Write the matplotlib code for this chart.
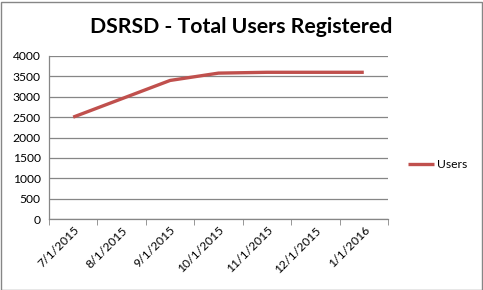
import matplotlib
matplotlib.use("Agg")
import matplotlib.pyplot as plt
from matplotlib.patches import Rectangle

categories = ["7/1/2015", "8/1/2015", "9/1/2015", "10/1/2015", "11/1/2015", "12/1/2015", "1/1/2016"]
users = [2500, 2950, 3400, 3580, 3600, 3600, 3600]
yticks = [0, 500, 1000, 1500, 2000, 2500, 3000, 3500, 4000]

plt.rcParams['font.family'] = ['Lato', 'DejaVu Sans']

fig = plt.figure(figsize=(4.83, 2.90), dpi=100)
ax = fig.add_axes([49/483, 71/290, (388-49)/483, (219-56)/290])

x = list(range(len(categories)))
ax.plot(x, users, color='#C0504D', lw=2.4, label='Users', solid_capstyle='butt')
ax.set_xlim(-0.5, len(categories) - 0.5)
ax.set_ylim(0, 4000)
ax.set_yticks(yticks)
ax.set_yticklabels([str(v) for v in yticks], fontsize=8.7)
ax.set_xticks(x)
ax.set_xticklabels(categories, rotation=45, ha='right', rotation_mode='anchor', fontsize=8.7)
ax.tick_params(axis='x', length=0, pad=4)
ax.set_xticks([i - 0.5 for i in range(len(categories) + 1)], minor=True)
ax.tick_params(axis='x', which='minor', length=4, color='#868686', direction='out')
ax.tick_params(axis='y', length=0, pad=6)
ax.grid(axis='y', color='#868686', lw=0.9)
ax.set_axisbelow(True)
for s in ['top', 'right']:
    ax.spines[s].set_visible(False)
for s in ['left', 'bottom']:
    ax.spines[s].set_color('#868686')
    ax.spines[s].set_linewidth(0.9)

fig.text(241/483, 1 - 27/290, "DSRSD - Total Users Registered", ha='center', va='center',
         fontsize=15.3, fontweight='bold')

leg = ax.legend(loc='center left', bbox_to_anchor=(397/483, 1 - 165/290), bbox_transform=fig.transFigure,
                frameon=False, fontsize=8.7, handlelength=2.2, handletextpad=0.2)

fig.patches.append(Rectangle((0.5/483, 0.5/290), 481/483, 288/290, transform=fig.transFigure,
                             fill=False, edgecolor='#868686', lw=1))

fig.savefig("out.png", dpi=100)
